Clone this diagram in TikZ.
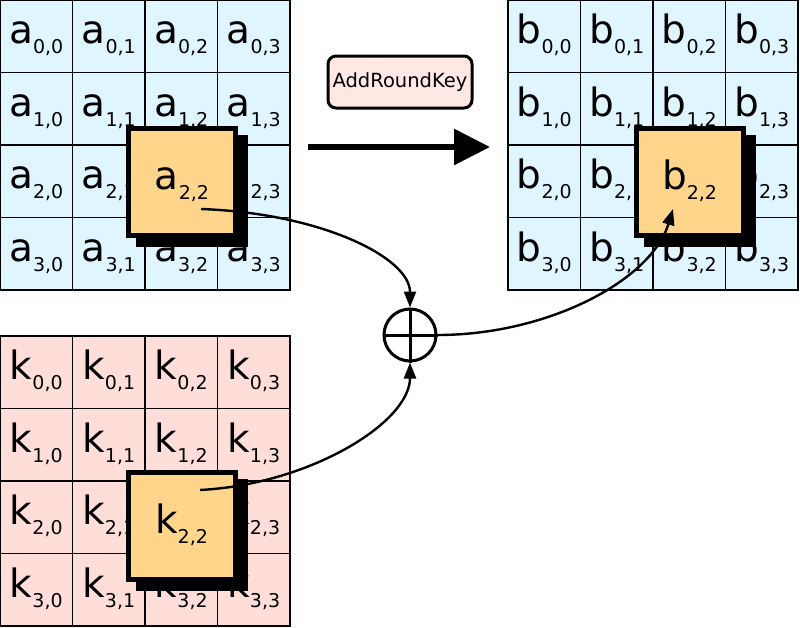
\documentclass[tikz,border=0pt]{standalone}
\usepackage{fontspec}
\setmainfont{DejaVu Sans}
\usetikzlibrary{arrows.meta,positioning,shadows}

\definecolor{stateblue}{HTML}{DFF5FF}
\definecolor{keypink}{HTML}{FFDEDA}
\definecolor{pickorange}{HTML}{FFD58C}
\definecolor{opfill}{HTML}{FFE7E4}

% cell entry: letter with index below
\newcommand{\cel}[2]{{\fontsize{39}{42}\selectfont #1}\raisebox{-10pt}{\fontsize{19}{21}\selectfont #2}}

\tikzset{
  cell/.style={draw, line width=1.5pt, minimum size=72.5pt, inner sep=0pt, text height=25pt, text depth=10pt},
  pick/.style={draw, line width=5pt, fill=pickorange, minimum size=107pt, inner sep=0pt,
    text height=25pt, text depth=10pt,
    drop shadow={shadow xshift=10pt, shadow yshift=-8.5pt, shadow scale=1.047, fill=black, opacity=1}},
  oplbl/.style={draw, line width=3pt, rounded corners=8pt, fill=opfill, minimum width=144pt,
    minimum height=52pt, font=\fontsize{19.5}{21}\selectfont},
  flow/.style={line width=2.4pt, -{Triangle[length=16pt,width=12pt]}},
}

\begin{document}
\begin{tikzpicture}[x=1pt,y=1pt]
  \useasboundingbox (0,0) rectangle (800,-627);

  % state, result and round key
  \foreach \r in {0,...,3}
    \foreach \c in {0,...,3} {
      \node[cell, fill=stateblue] (a\r\c) at ({36.25+72.5*\c}, {-36.25-72.5*\r}) {\cel{a}{\r,\c}};
      \node[cell, fill=stateblue] (b\r\c) at ({544.25+72.5*\c}, {-36.25-72.5*\r}) {\cel{b}{\r,\c}};
      \node[cell, fill=keypink] (k\r\c) at ({36.25+72.5*\c}, {-372.25-72.5*\r}) {\cel{k}{\r,\c}};
    }

  % picked bytes
  \node[pick] (asel) at (182,-182) {\cel{a}{2,2}};
  \node[pick] (bsel) at (689.5,-182) {\cel{b}{2,2}};
  \node[pick] (ksel) at (181.5,-526) {\cel{k}{2,2}};

  % step
  \node[oplbl] (opname) at (400,-82) {AddRoundKey};
  \coordinate (stepL) at (308,-147);
  \coordinate (stepR) at (490,-147);
  \draw[line width=6pt, -{Triangle[length=36pt,width=35pt]}] (stepL) -- (stepR);

  % xor
  \node[circle, draw, line width=3pt, minimum size=52pt, inner sep=0pt] (xor) at (410,-335) {};
  \draw[line width=3pt] (xor.north) -- (xor.south);
  \draw[line width=3pt] (xor.west) -- (xor.east);

  \coordinate (asrc) at ([shift={(19,-27)}]asel.center);
  \coordinate (ksrc) at ([shift={(18.5,36)}]ksel.center);
  \coordinate (bdst) at ([shift={(-16.5,-27)}]bsel.center);

  \draw[flow] (asrc) to[out=-2, in=90, out distance=120pt, in distance=50pt] (xor.north);
  \draw[flow] (ksrc) to[out=3, in=-90, out distance=110pt, in distance=60pt] (xor.south);
  \draw[flow] (xor.east) to[out=0, in=-107, out distance=110pt, in distance=75pt] (bdst);
\end{tikzpicture}
\end{document}
